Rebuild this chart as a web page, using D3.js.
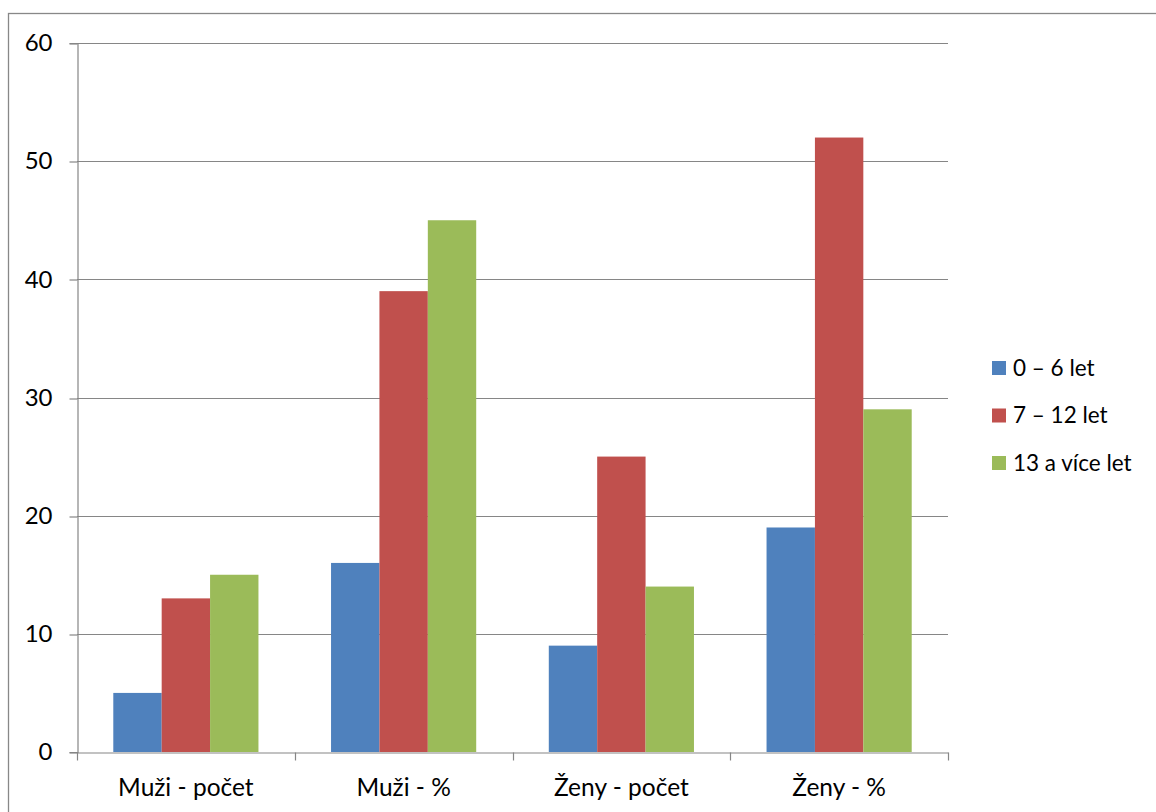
<!DOCTYPE html>
<html>
<head>
<meta charset="utf-8">
<script src="https://cdn.jsdelivr.net/npm/d3@7/dist/d3.min.js"></script>
<style>
  html, body { margin: 0; padding: 0; background: #fff; }
  svg text { font-family: Lato, "Open Sans", sans-serif; fill: #000; }
</style>
</head>
<body>
<svg id="chart" width="1156" height="812"></svg>
<script>
// Age groups by sex: counts and percentages
const categories = ["Muži - počet", "Muži - %", "Ženy - počet", "Ženy - %"];
const seriesNames = ["0 – 6 let", "7 – 12 let", "13 a více let"];
const age0to6 = [5, 16, 9, 19];
const age7to12 = [13, 39, 25, 52];
const age13plus = [15, 45, 14, 29];
const yTicks = [0, 10, 20, 30, 40, 50, 60];
const colors = ["#4F81BD", "#C0504D", "#9BBB59"];

const seriesValues = [age0to6, age7to12, age13plus];
const rows = categories.map((c, i) => ({
  category: c,
  values: seriesNames.map((s, j) => ({ series: s, value: seriesValues[j][i] }))
}));

const svg = d3.select("#chart");
const plot = { left: 77, right: 948, top: 43, bottom: 752 };

// outer chart frame
svg.append("rect")
  .attr("x", 8.5).attr("y", 13.5)
  .attr("width", 1300).attr("height", 1000)
  .attr("fill", "none").attr("stroke", "#888").attr("stroke-width", 1.3);

const x0 = d3.scaleBand().domain(categories).range([plot.left, plot.right]).paddingInner(0).paddingOuter(0);
// gap width 150% of a bar: 3 bars + 1.5 bar gap per category
const groupW = x0.bandwidth() * 3 / 4.5;
const x1 = d3.scaleBand().domain(seriesNames).range([0, groupW]);
const y = d3.scaleLinear().domain([0, 60]).range([plot.bottom, plot.top]);

// horizontal gridlines
svg.append("g").selectAll("line").data(yTicks.filter(d => d > 0)).join("line")
  .attr("x1", plot.left).attr("x2", plot.right)
  .attr("y1", d => Math.round(y(d)) + 0.5).attr("y2", d => Math.round(y(d)) + 0.5)
  .attr("stroke", "#868686").attr("stroke-width", 1.2);

// bars
const groups = svg.append("g").selectAll("g").data(rows).join("g")
  .attr("transform", d => `translate(${x0(d.category) + (x0.bandwidth() - groupW) / 2},0)`);
groups.selectAll("rect").data(d => d.values).join("rect")
  .attr("x", d => x1(d.series))
  .attr("width", x1.bandwidth())
  .attr("y", d => y(d.value))
  .attr("height", d => y(0) - y(d.value))
  .attr("fill", (d, i) => colors[i]);

// y axis
const yAxis = svg.append("g").attr("transform", `translate(${plot.left + 0.5},0)`)
  .call(d3.axisLeft(y).tickValues(yTicks).tickSize(8).tickPadding(17).tickFormat(d3.format("d")));
yAxis.select(".domain").attr("stroke", "#868686").attr("stroke-width", 1.2);
yAxis.selectAll(".tick line").attr("stroke", "#868686").attr("stroke-width", 1.2)
  .attr("transform", d => `translate(0,${Math.round(y(d)) + 0.5 - y(d)})`);
yAxis.selectAll(".tick text").style("font-size", "24px").attr("fill", "#000")
  .style("font-family", "Lato, 'Open Sans', sans-serif");

// x axis
const xAxis = svg.append("g").attr("transform", `translate(0,${plot.bottom + 0.5})`)
  .call(d3.axisBottom(x0).tickSize(0).tickPadding(0));
xAxis.select(".domain").attr("stroke", "#868686").attr("stroke-width", 1.2);
xAxis.selectAll(".tick text").style("font-size", "24.5px").attr("fill", "#000")
  .style("font-family", "Lato, 'Open Sans', sans-serif")
  .attr("dy", null).attr("y", 43);
// category boundary ticks
const bounds = categories.map(c => x0(c)).concat([plot.right]);
xAxis.append("g").selectAll("line").data(bounds).join("line")
  .attr("x1", d => Math.round(d) + 0.5).attr("x2", d => Math.round(d) + 0.5)
  .attr("y1", 0).attr("y2", 8)
  .attr("stroke", "#868686").attr("stroke-width", 1.2);

// legend
const legend = svg.append("g").selectAll("g").data(seriesNames).join("g")
  .attr("transform", (d, i) => `translate(992,${368 + i * 47.5})`);
legend.append("rect").attr("x", 0).attr("y", -7).attr("width", 14).attr("height", 14)
  .attr("fill", (d, i) => colors[i]);
legend.append("text").attr("x", 21).attr("y", 0).attr("dy", "0.35em")
  .style("font-size", "22.5px").text(d => d);
</script>
</body>
</html>
